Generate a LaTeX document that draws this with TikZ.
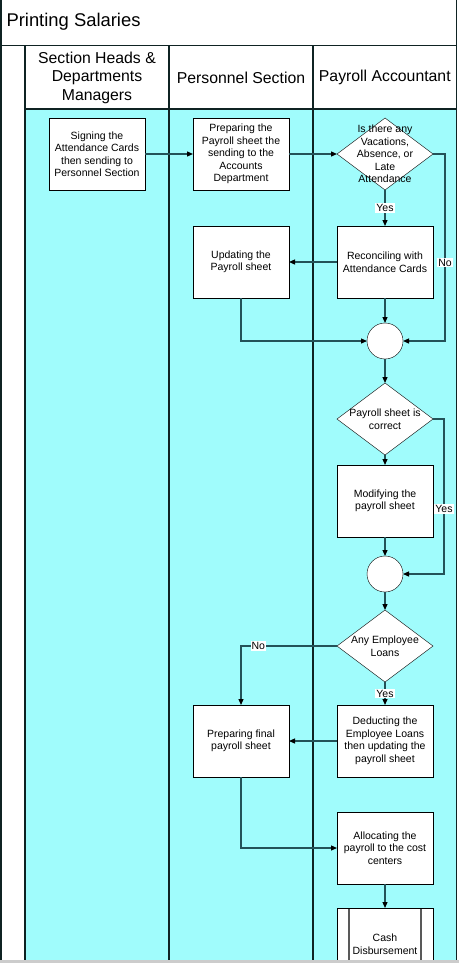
\documentclass[tikz,border=0pt]{standalone}
\usepackage{fontspec}
\setmainfont{Liberation Sans}
\usetikzlibrary{positioning,arrows.meta,shapes.geometric}
\definecolor{lanecyan}{RGB}{160,252,252}
\definecolor{flowline}{RGB}{35,82,88}
\definecolor{laneline}{RGB}{15,35,35}

\begin{document}
\begin{tikzpicture}[x=1pt, y=-1pt, node distance=24pt,
  every node/.style={font=\fontsize{10.5}{12.5}\selectfont},
  box/.style={draw,fill=white,align=center,minimum width=96pt,minimum height=72pt,inner sep=2pt,outer sep=0pt},
  decision/.style={diamond,draw,fill=white,minimum width=96pt,minimum height=72pt,inner sep=0pt,outer sep=0pt},
  junction/.style={circle,draw,fill=white,minimum size=36pt,inner sep=0pt,outer sep=0pt},
  subproc/.style={box,path picture={
    \draw[gray!70!black,line width=1.2pt] ([xshift=12pt]path picture bounding box.north west) -- ([xshift=12pt]path picture bounding box.south west);
    \draw[gray!70!black,line width=1.2pt] ([xshift=-12pt]path picture bounding box.north east) -- ([xshift=-12pt]path picture bounding box.south east);}},
  flow/.style={draw=flowline,line width=1.2pt,-{Triangle[length=6pt,width=5pt,color=black]}},
  lbl/.style={fill=white,inner sep=1pt},
  lane/.style={draw=laneline,line width=1.6pt},
  head/.style={font=\fontsize{15.8}{18.5}\selectfont,align=center}]
\clip (0,0) rectangle (459,963);
% swimlanes
\fill[lanecyan] (25,109) rectangle (456.5,963);
\draw[lane] (1,0) -- (1,963);
\draw[lane] (456.5,0) -- (456.5,963);
\draw[lane] (1,45.5) -- (456.5,45.5);
\draw[lane] (25,109) -- (456.5,109);
\foreach \x in {25,169,313} \draw[lane] (\x,45.5) -- (\x,963);
\node[anchor=west,font=\fontsize{18.4}{22}\selectfont] (title) at (3,22) {Printing Salaries};
\node[head] (hd1) at (97,77.5) {Section Heads \&\\Departments\\Managers};
\node[head] (hd2) at (241,77.5) {Personnel Section};
\node[head] (hd3) at (384.8,77.5) {Payroll Accountant};
% steps
\node[box] (sign) at (97,154) {Signing the\\Attendance Cards\\then sending to\\Personnel Section};
\node[box,right=48pt of sign] (prep) {Preparing the\\Payroll sheet the\\sending to the\\Accounts\\Department};
\node[decision,right=48pt of prep] (vac) {};
\node[align=center] (vactxt) at (vac) {Is there any\\Vacations,\\Absence, or\\Late\\Attendance};
\node[box,below=36pt of vac] (recon) {Reconciling with\\Attendance Cards};
\node[box,left=48pt of recon] (upd) {Updating the\\Payroll sheet};
\node[junction,below=25pt of recon] (j1) {};
\node[decision,below=24pt of j1] (corr) {};
\node[align=center] (corrtxt) at (corr) {Payroll sheet is\\correct};
\node[box,below=10pt of corr] (modi) {Modifying the\\payroll sheet};
\node[junction,below=19pt of modi] (j2) {};
\node[decision,below=18pt of j2] (loan) {};
\node[align=center] (loantxt) at (loan) {Any Employee\\Loans};
\node[box,below=23pt of loan] (dedu) {Deducting the\\Employee Loans\\then updating the\\payroll sheet};
\node[box,left=48pt of dedu] (final) {Preparing final\\payroll sheet};
\node[box,below=35pt of dedu] (alloc) {Allocating the\\payroll to the cost\\centers};
\node[subproc,below=24pt of alloc] (cash) {Cash\\Disbursement};
% connectors
\draw[flow] (sign) -- (prep);
\draw[flow] (prep) -- (vac);
\draw[flow] (vac) -- node[lbl]{Yes} (recon);
\draw[flow] (vac.east) -- ++(12,0) |- node[lbl,pos=.29]{No} (j1.east);
\draw[flow] (recon) -- (upd);
\draw[flow] (recon) -- (j1);
\draw[flow] (upd) |- (j1);
\draw[flow] (j1) -- (corr);
\draw[flow] (corr) -- (modi);
\draw[flow] (corr.east) -- ++(11,0) |- node[lbl,pos=.29]{Yes} (j2.east);
\draw[flow] (modi) -- (j2);
\draw[flow] (j2) -- (loan);
\draw[flow] (loan) -- node[lbl]{Yes} (dedu);
\draw[flow] (loan.west) -| node[lbl,pos=.41]{No} (final.north);
\draw[flow] (dedu) -- (final);
\draw[flow] (final) |- (alloc);
\draw[flow] (alloc) -- (cash);
\fill[gray!40] (0,960) rectangle (459,963);
\end{tikzpicture}
\end{document}
